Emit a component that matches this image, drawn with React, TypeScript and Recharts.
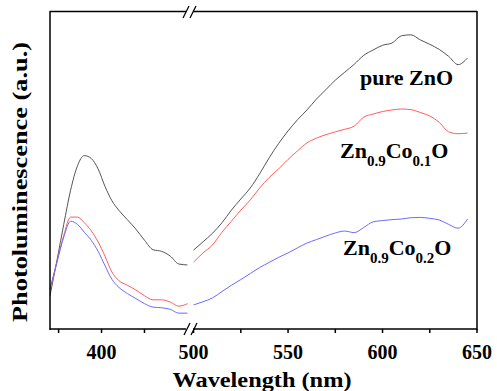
import { LineChart, Line, XAxis, YAxis } from "recharts";

// wavelength grid (nm) for the two sides of the broken axis
const wlLeft = [370, 374, 378, 382, 386, 390, 394, 398, 402, 406, 410, 415, 420, 425, 430, 435, 440, 445, 450];
const wlRight = [
    500, 505, 510, 515, 520, 525, 530, 535, 540, 545, 550, 555, 560, 565, 570,
    575, 580, 585, 590, 595, 600, 605, 610, 615, 620, 625, 630, 635, 640, 645,
];

// PL intensity (a.u.)
const pureLeft = [10.5, 21.5, 33, 43.8, 51.5, 54.7, 53.8, 50.5, 45, 40.5, 37.5, 34.5, 31.5, 28, 25, 24.5, 23, 20.5, 20.2];
const co1Left = [12.5, 21, 29.5, 35.3, 35.3, 33.5, 31, 27.5, 23, 18, 15.3, 13.8, 12.3, 10.5, 9.2, 9.2, 8.5, 7.2, 8.0];
const co2Left = [12.5, 21, 29, 34, 33, 30.5, 28, 24.5, 20, 15.7, 13.2, 11.2, 9.6, 8, 6.9, 6.7, 6.2, 5.0, 5.0];

const pureRight = [
    24.9, 27.5, 30.2, 33.5, 37.5, 41, 44.5, 49, 54, 58.5, 62.5, 66, 69.1, 72.5, 75.5,
    78.5, 81, 83.5, 86.3, 88, 89.5, 90.2, 92.5, 92.8, 91.2, 89.8, 88.2, 86, 83.4, 85.5,
];
const co1Right = [
    21.1, 24, 26.5, 30.5, 34, 37.5, 40.7, 44.5, 47.8, 50.5, 53.5, 56.2, 58.7, 60.2, 61.3,
    62.2, 63, 64, 66.8, 67.8, 68.6, 69.1, 69.4, 69.2, 68.3, 67.2, 65.2, 62.2, 61.6, 61.8,
];
const co2Right = [
    7.6, 8.6, 9.8, 11.8, 13.8, 15.6, 17.5, 19.4, 21, 22.6, 24, 25.6, 27.1, 28.2, 29.3,
    30.3, 30.9, 30.4, 32, 33.8, 34.2, 34.5, 34.7, 35.1, 35.2, 34.9, 34.4, 33, 31.8, 34.7,
];

const ticksLeft = [375, 400, 425];
const ticksRight = [500, 525, 550, 575, 600, 625, 650];
const domLeft: [number, number] = [370, 451.5];
const domRight: [number, number] = [498.1, 650];

const FONT = '"Liberation Serif", "DejaVu Serif", serif';
const COLORS = { pure: "#555555", co1: "#ff5c5c", co2: "#6b6bff" };

const leftData = wlLeft.map((wl, i) => ({ wl, pure: pureLeft[i], co1: co1Left[i], co2: co2Left[i] }));
const rightData = wlRight.map((wl, i) => ({ wl, pure: pureRight[i], co1: co1Right[i], co2: co2Right[i] }));

const axisStyle = { stroke: "#000", strokeWidth: 1.5 };
const tickStyle = { fill: "#000", fontSize: 20, fontWeight: "bold" as const, fontFamily: FONT };
const fmt = (v: number) => (v % 50 === 0 ? String(v) : "");

function Series() {
    return (
        <>
            <Line dataKey="pure" stroke={COLORS.pure} strokeWidth={1} dot={false} type="monotone" isAnimationActive={false} />
            <Line dataKey="co1" stroke={COLORS.co1} strokeWidth={1} dot={false} type="monotone" isAnimationActive={false} />
            <Line dataKey="co2" stroke={COLORS.co2} strokeWidth={1} dot={false} type="monotone" isAnimationActive={false} />
        </>
    );
}

export default function App() {
    return (
        <div style={{ position: "absolute", left: 0, top: 0, width: 497, height: 391, background: "#fff", overflow: "hidden" }}>
            {/* left part 370–452 nm */}
            <div style={{ position: "absolute", left: 0, top: 0 }}>
                <LineChart width={190} height={391} data={leftData} margin={{ top: 12, right: 0, bottom: 0, left: 50 }}>
                    <XAxis dataKey="wl" type="number" domain={domLeft} ticks={ticksLeft} tickFormatter={fmt}
                           height={62} tickSize={4} tickMargin={12} axisLine={axisStyle} tickLine={axisStyle} tick={tickStyle} />
                    <YAxis domain={[0, 100]} hide />
                    {Series()}
                </LineChart>
            </div>

            {/* right part 500–650 nm */}
            <div style={{ position: "absolute", left: 150, top: 0 }}>
                <LineChart width={347} height={391} data={rightData} margin={{ top: 12, right: 20, bottom: 0, left: 40 }}>
                    <XAxis dataKey="wl" type="number" domain={domRight} ticks={ticksRight} tickFormatter={fmt}
                           height={62} tickSize={4} tickMargin={12} axisLine={axisStyle} tickLine={axisStyle} tick={tickStyle} />
                    <YAxis domain={[0, 100]} hide />
                    {Series()}
                </LineChart>
            </div>

            {/* frame, axis breaks, titles, series labels */}
            <svg width={497} height={391} style={{ position: "absolute", left: 0, top: 0, pointerEvents: "none" }}
                 fontFamily={FONT} fontWeight="bold" fill="#000">
                <path d="M50 11.5 H477 M50 11 V330 M477 11 V330" stroke="#000" strokeWidth={1.5} fill="none" />
                <rect x={186} y={9} width={7} height={6} fill="#fff" />
                <rect x={186} y={326} width={7} height={6} fill="#fff" />
                <g stroke="#000" strokeWidth={1.3}>
                    <line x1={183} y1={18} x2={189} y2={6} />
                    <line x1={190} y1={18} x2={196} y2={6} />
                    <line x1={184} y1={335} x2={190} y2={323} />
                    <line x1={191} y1={335} x2={197} y2={323} />
                </g>

                <text x={262} y={387} fontSize={22} textAnchor="middle" textLength={179} lengthAdjust="spacingAndGlyphs">Wavelength (nm)</text>
                <text x={27} y={182} fontSize={22} textAnchor="middle" textLength={280} lengthAdjust="spacingAndGlyphs"
                      transform="rotate(-90, 27, 182)">Photoluminescence (a.u.)</text>

                <text x={360} y={85} fontSize={22}>pure ZnO</text>
                <text x={340} y={158} fontSize={22}>
                    Zn<tspan fontSize={15} dy={8}>0.9</tspan><tspan dy={-8}>Co</tspan><tspan fontSize={15} dy={8}>0.1</tspan><tspan dy={-8}>O</tspan>
                </text>
                <text x={343} y={255} fontSize={22}>
                    Zn<tspan fontSize={15} dy={8}>0.9</tspan><tspan dy={-8}>Co</tspan><tspan fontSize={15} dy={8}>0.2</tspan><tspan dy={-8}>O</tspan>
                </text>
            </svg>
        </div>
    );
}
